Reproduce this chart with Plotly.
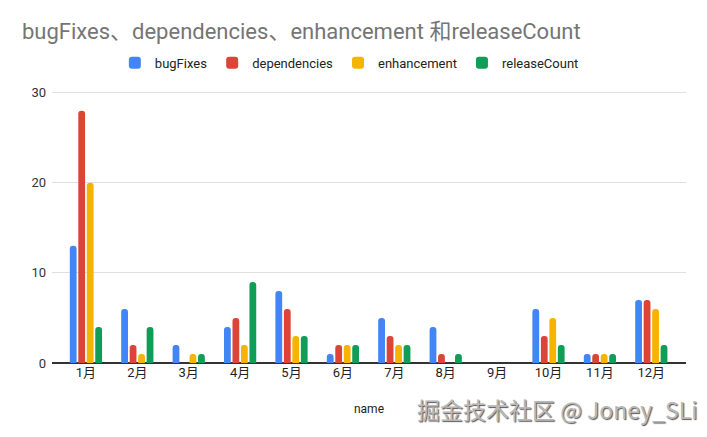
import plotly.graph_objects as go

months = ["1月", "2月", "3月", "4月", "5月", "6月", "7月", "8月", "9月", "10月", "11月", "12月"]
bugFixes = [13, 6, 2, 4, 8, 1, 5, 4, 0, 6, 1, 7]
dependencies = [28, 2, 0, 5, 6, 2, 3, 1, 0, 3, 1, 7]
enhancement = [20, 1, 1, 2, 3, 2, 2, 0, 0, 5, 1, 6]
releaseCount = [4, 4, 1, 9, 3, 2, 2, 1, 0, 2, 1, 2]
series = [("bugFixes", bugFixes, "#4285F4"), ("dependencies", dependencies, "#DB4437"),
          ("enhancement", enhancement, "#F4B400"), ("releaseCount", releaseCount, "#0F9D58")]
ytickvals = [0, 10, 20, 30]

FONT = "Roboto, 'Liberation Sans', 'Noto Sans CJK SC', sans-serif"

fig = go.Figure()
for name, vals, col in series:
    fig.add_trace(go.Bar(x=months, y=vals, name=name, marker=dict(color=col, cornerradius=3, line=dict(width=0))))

# page body has an 8px default margin; figure is sized/shifted to compensate
fig.update_layout(
    width=699, height=429,
    margin=dict(l=44, r=21, t=82, b=74, autoexpand=False),
    paper_bgcolor="white", plot_bgcolor="white",
    barmode="group", bargap=0.34, bargroupgap=0.2,
    font=dict(family=FONT, size=12, color="#222"),
    title=dict(text="bugFixes、dependencies、enhancement 和releaseCount", x=0.02, xanchor="left",
               y=0.946, yanchor="middle", font=dict(size=22, color="#757575", family=FONT)),
    legend=dict(orientation="h", x=0.469, xanchor="center", y=1.10, yanchor="middle",
                font=dict(size=13, color="#222"), itemwidth=30, traceorder="normal"),
    xaxis=dict(showgrid=False, ticks="", tickfont=dict(size=13, color="#222"),
               range=[-0.66, 11.675],
               title=dict(text="name", font=dict(size=12, color="#222"), standoff=25), showline=False),
    yaxis=dict(range=[0, 30.3], tickvals=ytickvals, gridcolor="#e0e0e0", gridwidth=1,
               zeroline=True, zerolinecolor="#333", zerolinewidth=1.5,
               tickfont=dict(size=13, color="#333"), ticks="", ticklabelstandoff=5),
    showlegend=True,
)
fig.add_annotation(text="掘金技术社区 @ Joney_SLi", xref="paper", yref="paper", x=1.022, y=-0.168,
                   xanchor="right", yanchor="middle", showarrow=False,
                   font=dict(size=23, color="#b8b8b8", family="'Noto Sans CJK SC', sans-serif",
                             shadow="1px 1px 1px #555"))
fig.write_html("out.html")
